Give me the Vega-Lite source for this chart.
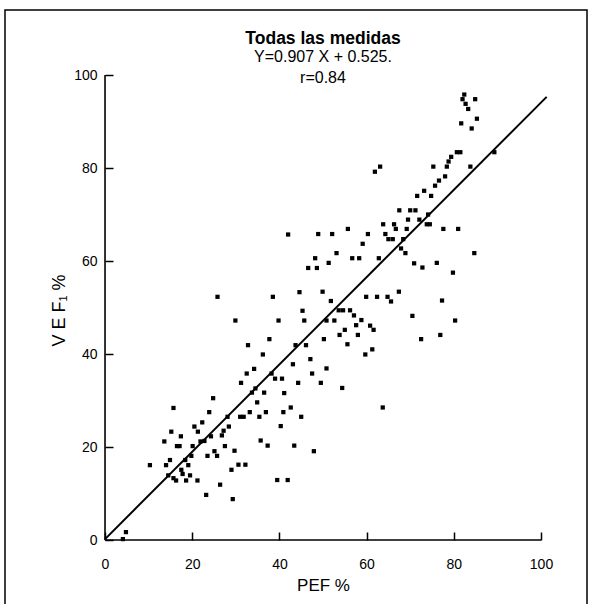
{
 "$schema": "https://vega.github.io/schema/vega-lite/v6.json",
 "autosize": {"type": "none"},
 "padding": {"left": 5, "top": 10, "right": 3, "bottom": 0},
 "width": 582,
 "height": 600,
 "background": "white",
 "config": {"view": {"stroke": "black", "strokeWidth": 1.5, "fill": "white"}, "font": "Liberation Sans"},
 "title": {"text": "Todas las medidas", "subtitle": ["Y=0.907 X + 0.525.", "r=0.84"], "anchor": "middle", "dx": 27, "offset": -76, "fontSize": 17.5, "fontWeight": "bold", "subtitleFontSize": 16, "subtitleLineHeight": 21, "subtitlePadding": 2, "color": "black", "subtitleColor": "black", "font": "Liberation Sans", "subtitleFont": "Liberation Sans"},
 "datasets": {
  "axes": [{"x": 0, "y": 0, "x2": 100, "y2": 0}, {"x": 0, "y": 0, "x2": 0, "y2": 100}],
  "fit": [{"x": 0, "y": 0.2}, {"x": 101.3, "y": 95.3}],
  "points": [
{"x":82.4,"y":95.8},{"x":82.0,"y":94.8},{"x":84.9,"y":94.8},{"x":82.7,"y":93.8},{"x":83.3,"y":92.7},{"x":85.3,"y":90.6},{"x":81.7,"y":89.6},{"x":84.1,"y":88.5},{"x":80.7,"y":83.4},{"x":81.5,"y":83.4},{"x":89.3,"y":83.4},{"x":79.4,"y":82.4},{"x":78.8,"y":81.4},{"x":78.4,"y":80.3},{"x":83.8,"y":80.3},{"x":75.3,"y":80.3},{"x":63.1,"y":80.3},{"x":61.9,"y":79.2},{"x":78.0,"y":78.2},{"x":76.6,"y":77.3},{"x":75.7,"y":76.2},{"x":73.2,"y":75.1},{"x":71.6,"y":74.0},{"x":74.8,"y":74.0},{"x":67.5,"y":70.9},{"x":70.0,"y":70.9},{"x":71.2,"y":70.9},{"x":69.5,"y":68.9},{"x":72.1,"y":68.9},{"x":74.1,"y":70.0},{"x":73.8,"y":67.9},{"x":74.5,"y":67.9},{"x":63.8,"y":67.9},{"x":66.3,"y":67.9},{"x":66.7,"y":66.9},{"x":69.2,"y":66.9},{"x":77.6,"y":66.9},{"x":81.0,"y":66.9},{"x":55.7,"y":66.9},{"x":52.1,"y":65.8},{"x":60.3,"y":65.8},{"x":64.3,"y":65.8},{"x":65.0,"y":64.7},{"x":66.0,"y":64.7},{"x":68.4,"y":64.7},{"x":59.1,"y":63.7},{"x":67.9,"y":62.7},{"x":68.9,"y":61.7},{"x":84.7,"y":61.7},{"x":53.1,"y":61.7},{"x":56.7,"y":60.6},{"x":58.3,"y":60.6},{"x":62.8,"y":60.6},{"x":51.3,"y":59.6},{"x":70.9,"y":59.5},{"x":72.8,"y":58.6},{"x":76.1,"y":59.6},{"x":79.8,"y":57.5},{"x":49.9,"y":53.4},{"x":51.8,"y":51.4},{"x":59.9,"y":52.3},{"x":62.4,"y":52.3},{"x":64.8,"y":52.3},{"x":65.6,"y":51.3},{"x":67.4,"y":53.4},{"x":77.3,"y":51.5},{"x":53.6,"y":49.4},{"x":54.6,"y":49.4},{"x":56.2,"y":49.4},{"x":57.1,"y":48.3},{"x":58.8,"y":47.3},{"x":70.5,"y":48.2},{"x":80.3,"y":47.2},{"x":50.8,"y":47.2},{"x":52.6,"y":47.2},{"x":57.6,"y":46.2},{"x":60.8,"y":46.1},{"x":61.6,"y":45.2},{"x":55.0,"y":45.2},{"x":53.8,"y":44.1},{"x":58.0,"y":44.1},{"x":50.2,"y":43.2},{"x":72.5,"y":43.2},{"x":76.9,"y":44.1},{"x":55.6,"y":42.1},{"x":59.7,"y":39.9},{"x":61.3,"y":41.0},{"x":50.8,"y":36.9},{"x":49.5,"y":33.8},{"x":54.4,"y":32.7},{"x":63.7,"y":28.5},{"x":42.0,"y":65.7},{"x":48.9,"y":65.8},{"x":48.2,"y":60.6},{"x":46.6,"y":58.5},{"x":48.6,"y":58.5},{"x":44.6,"y":53.3},{"x":25.8,"y":52.3},{"x":38.5,"y":52.3},{"x":45.3,"y":49.3},{"x":29.9,"y":47.2},{"x":39.8,"y":47.2},{"x":45.7,"y":47.2},{"x":37.7,"y":43.2},{"x":32.8,"y":41.9},{"x":36.2,"y":39.9},{"x":43.7,"y":41.9},{"x":46.1,"y":41.9},{"x":47.1,"y":38.9},{"x":43.1,"y":37.8},{"x":47.5,"y":35.8},{"x":32.5,"y":35.8},{"x":34.2,"y":36.8},{"x":38.2,"y":35.8},{"x":39.0,"y":34.7},{"x":40.6,"y":34.7},{"x":44.3,"y":33.8},{"x":31.2,"y":33.8},{"x":34.5,"y":32.6},{"x":33.7,"y":31.7},{"x":36.5,"y":31.7},{"x":41.1,"y":31.6},{"x":34.9,"y":29.6},{"x":42.6,"y":28.5},{"x":33.2,"y":27.5},{"x":36.9,"y":27.5},{"x":40.9,"y":27.5},{"x":45.0,"y":26.5},{"x":40.3,"y":24.5},{"x":24.8,"y":30.5},{"x":23.9,"y":27.5},{"x":22.3,"y":25.3},{"x":28.1,"y":26.5},{"x":31.0,"y":26.5},{"x":31.8,"y":26.5},{"x":35.4,"y":26.5},{"x":28.4,"y":24.4},{"x":27.2,"y":23.5},{"x":26.8,"y":22.5},{"x":24.3,"y":22.3},{"x":21.9,"y":21.2},{"x":22.8,"y":21.3},{"x":15.7,"y":28.4},{"x":15.2,"y":23.3},{"x":13.6,"y":21.2},{"x":16.5,"y":20.2},{"x":17.1,"y":20.2},{"x":20.5,"y":24.4},{"x":21.3,"y":23.3},{"x":20.1,"y":20.2},{"x":17.4,"y":22.3},{"x":10.3,"y":16.1},{"x":14.0,"y":16.1},{"x":14.9,"y":17.2},{"x":18.4,"y":17.2},{"x":19.1,"y":16.1},{"x":19.8,"y":18.1},{"x":23.5,"y":18.1},{"x":25.1,"y":19.1},{"x":25.7,"y":18.1},{"x":27.5,"y":20.2},{"x":29.7,"y":19.2},{"x":35.7,"y":21.4},{"x":37.3,"y":20.3},{"x":43.4,"y":20.3},{"x":47.9,"y":19.1},{"x":30.6,"y":16.2},{"x":32.2,"y":16.2},{"x":29.0,"y":15.1},{"x":17.5,"y":15.1},{"x":17.8,"y":14.2},{"x":14.5,"y":13.9},{"x":15.7,"y":13.3},{"x":19.5,"y":13.9},{"x":16.3,"y":12.8},{"x":18.6,"y":12.8},{"x":21.2,"y":12.8},{"x":26.4,"y":11.9},{"x":23.2,"y":9.7},{"x":29.3,"y":8.8},{"x":39.5,"y":12.9},{"x":41.9,"y":12.9},{"x":4.1,"y":0.2},{"x":4.8,"y":1.7}
  ]
 },
 "encoding": {
  "x": {"field": "x", "type": "quantitative",
   "scale": {"domain": [-22.94, 110.55], "nice": false, "zero": false},
   "axis": {"values": [0, 20, 40, 60, 80, 100], "domain": false, "grid": false, "offset": -70, "tickSize": -8, "tickColor": "black", "tickWidth": 1.5, "labelPadding": 25, "labelFontSize": 14, "labelColor": "black", "labelFont": "Liberation Sans", "title": "PEF %", "titleFontSize": 17, "titleFontWeight": "normal", "titleColor": "black", "titleFont": "Liberation Sans", "titlePadding": 6, "titleX": 318}},
  "y": {"field": "y", "type": "quantitative",
   "scale": {"domain": [-15.05, 113.98], "nice": false, "zero": false},
   "axis": {"values": [0, 20, 40, 60, 80, 100], "domain": false, "grid": false, "offset": -100, "tickSize": -8, "tickColor": "black", "tickWidth": 1.5, "labelPadding": 16, "labelFontSize": 14, "labelColor": "black", "labelFont": "Liberation Sans", "title": "V E F₁  %", "titleFontSize": 18, "titleFontWeight": "normal", "titleColor": "black", "titleFont": "Liberation Sans", "titlePadding": 5}}
 },
 "layer": [
  {"data": {"name": "axes"}, "mark": {"type": "rule", "color": "black", "strokeWidth": 1.6}, "encoding": {"x2": {"field": "x2"}, "y2": {"field": "y2"}}},
  {"data": {"name": "fit"}, "mark": {"type": "line", "color": "black", "strokeWidth": 2}, "encoding": {}},
  {"data": {"name": "points"}, "mark": {"type": "square", "color": "black", "filled": true, "size": 18, "opacity": 1}, "encoding": {}}
 ]
}
